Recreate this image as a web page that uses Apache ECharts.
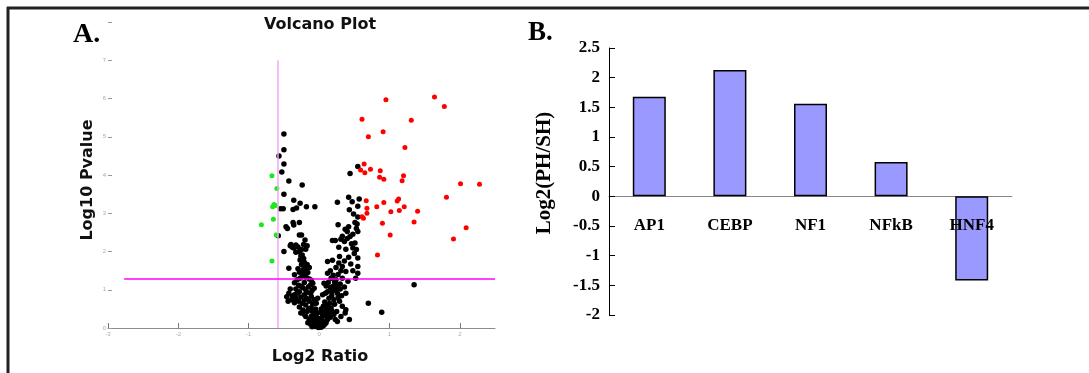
<!DOCTYPE html>
<html>
<head>
<meta charset="utf-8">
<script src="https://cdn.jsdelivr.net/npm/echarts@6/dist/echarts.min.js"></script>
<style>
  html, body { margin: 0; padding: 0; background: #fff; }
  #main { width: 1089px; height: 373px; }
</style>
</head>
<body>
<div id="main"></div>
<script>
// A. volcano plot: [log2 ratio, log10 pvalue]
const redPoints = [
  [0.61, 5.46], [0.95, 5.97], [1.64, 6.04], [1.78, 5.79], [1.31, 5.43], [0.70, 5.00],
  [0.91, 5.13], [1.22, 4.72], [0.64, 4.29], [0.59, 4.13], [0.73, 4.15], [0.65, 4.06],
  [0.87, 4.11], [0.86, 3.94], [0.92, 3.89], [1.20, 3.98], [1.18, 3.85], [2.01, 3.77],
  [2.28, 3.76], [1.81, 3.42], [0.67, 3.33], [0.92, 3.28], [1.11, 3.32], [1.13, 3.37],
  [1.21, 3.17], [0.82, 3.17], [0.68, 3.13], [1.02, 3.04], [1.40, 3.05], [1.14, 3.07],
  [0.68, 3.00], [0.61, 2.91], [0.63, 2.87], [0.90, 2.74], [1.35, 2.77], [2.09, 2.62],
  [1.01, 2.43], [1.91, 2.33], [0.83, 1.91]
]
const greenPoints = [
  [-0.67, 3.98], [-0.60, 3.65], [-0.64, 3.23], [-0.66, 3.17], [-0.62, 3.20],
  [-0.65, 2.84], [-0.82, 2.70], [-0.61, 2.43], [-0.67, 1.75]
]
const blackPoints = [
  // left arm
  [-0.50, 5.07], [-0.50, 4.66], [-0.57, 4.50], [-0.50, 4.29], [-0.53, 4.08], [-0.43, 3.84],
  [-0.24, 3.74], [-0.50, 3.50], [-0.36, 3.34], [-0.27, 3.26], [-0.18, 3.17], [-0.06, 3.17],
  [-0.55, 3.12], [-0.51, 3.12], [-0.37, 3.10], [-0.32, 3.14], [-0.47, 2.65], [-0.45, 2.60],
  [-0.36, 2.69], [-0.28, 2.76], [-0.37, 2.76], [-0.58, 2.41], [-0.28, 2.43], [-0.25, 2.43],
  [-0.20, 2.30], [-0.41, 2.15], [-0.38, 2.11], [-0.50, 2.00], [-0.36, 2.09], [-0.28, 2.00],
  [-0.24, 1.91], [-0.17, 2.15], [-0.43, 1.56], [-0.27, 1.78], [-0.20, 1.61], [-0.18, 1.54],
  [-0.14, 1.58], [-0.35, 1.39], [-0.28, 1.46], [-0.24, 1.35], [-0.31, 1.26], [-0.14, 1.28],
  [-0.21, 1.19], [-0.09, 1.17], [-0.26, 1.09], [-0.19, 1.00], [-0.12, 1.13], [-0.07, 1.04],
  [-0.43, 0.91], [-0.38, 0.83], [-0.31, 0.91], [-0.26, 0.81], [-0.21, 0.87], [-0.12, 0.91],
  [-0.44, 0.70], [-0.39, 0.74], [-0.29, 0.70], [-0.24, 0.65], [-0.14, 0.70], [-0.07, 0.74],
  [-0.02, 0.78], [-0.26, 0.39], [-0.21, 0.35], [-0.17, 0.43], [-0.12, 0.52], [-0.07, 0.39],
  [-0.05, 0.22], [-0.01, 0.17], [-0.09, 0.13], [-0.14, 0.22], [-0.02, 0.09], [0.01, 0.04],
  [0.04, 0.13], [-0.06, 0.04],
  [-0.40, 2.18], [-0.33, 2.17], [-0.30, 2.12], [-0.25, 2.05], [-0.22, 2.18], [-0.19, 2.06],
  [-0.33, 1.98], [-0.26, 1.88], [-0.22, 1.82], [-0.21, 1.72], [-0.25, 1.66], [-0.17, 1.66],
  [-0.23, 1.52], [-0.30, 1.55], [-0.16, 1.45], [-0.21, 1.42], [-0.27, 1.30], [-0.18, 1.32],
  [-0.11, 1.25], [-0.35, 1.18], [-0.29, 1.12], [-0.15, 1.08], [-0.23, 1.05], [-0.33, 1.02],
  [-0.41, 1.02], [-0.10, 0.98], [-0.17, 0.93], [-0.28, 0.95], [-0.35, 0.87], [-0.46, 0.82],
  [-0.33, 0.78], [-0.18, 0.78], [-0.11, 0.82], [-0.21, 0.73], [-0.35, 0.66], [-0.19, 0.60],
  [-0.09, 0.62], [-0.04, 0.65], [-0.28, 0.55], [-0.15, 0.50], [-0.05, 0.50], [-0.23, 0.47],
  [-0.10, 0.44], [-0.02, 0.40], [-0.19, 0.30], [-0.11, 0.31], [-0.04, 0.30], [-0.08, 0.22],
  [0.00, 0.25], [-0.12, 0.10], [-0.04, 0.14], [0.03, 0.18], [-0.07, 0.06], [0.06, 0.06],
  [-0.01, 0.01], [0.03, 0.02], [-0.10, 0.03], [0.08, 0.10], [-0.16, 0.14], [0.10, 0.14],
  // right arm
  [0.55, 4.22], [0.44, 4.04], [0.42, 3.42], [0.57, 3.37], [0.47, 3.30], [0.26, 3.29],
  [0.43, 3.09], [0.51, 2.76], [0.54, 2.72], [0.27, 2.70], [0.42, 2.65], [0.55, 2.52],
  [0.40, 2.52], [0.44, 2.39], [0.31, 2.32], [0.19, 2.29], [0.23, 2.29], [0.36, 2.26],
  [0.51, 2.22], [0.28, 2.11], [0.48, 2.09], [0.38, 2.06], [0.55, 1.83], [0.29, 1.87],
  [0.19, 1.77], [0.28, 1.70], [0.12, 1.74], [0.33, 1.61], [0.55, 1.61], [0.45, 1.67],
  [0.16, 1.50], [0.12, 1.43], [0.20, 1.38], [0.38, 1.48], [0.55, 1.43], [0.24, 1.26],
  [0.13, 1.19], [0.07, 1.17], [0.26, 1.13], [0.41, 1.22], [0.20, 1.09], [0.36, 1.07],
  [0.19, 0.96], [0.26, 0.91], [0.30, 1.02], [0.09, 0.91], [0.05, 0.87], [0.14, 0.78],
  [0.21, 0.74], [0.38, 0.91], [0.29, 0.70], [0.12, 0.61], [0.06, 0.57], [0.17, 0.52],
  [0.33, 0.57], [0.38, 0.48], [0.09, 0.43], [0.14, 0.39], [0.21, 0.35], [0.31, 0.30],
  [0.37, 0.39], [0.43, 0.22], [0.26, 0.17], [0.23, 0.22], [0.12, 0.22], [0.07, 0.17],
  [0.02, 0.09],
  [0.05, 0.30], [0.10, 0.32], [0.16, 0.28], [0.04, 0.40], [0.18, 0.45], [0.11, 0.50],
  [0.25, 0.43], [0.03, 0.50], [0.08, 0.68], [0.15, 0.65], [0.22, 0.62], [0.27, 0.80],
  [0.32, 0.84], [0.18, 0.85], [0.12, 0.95], [0.24, 1.02], [0.16, 1.06], [0.10, 1.10],
  [0.30, 1.15], [0.33, 1.30], [0.22, 1.20], [0.17, 1.30], [0.27, 1.40], [0.31, 1.50],
  [0.24, 1.58], [0.36, 1.75], [0.42, 1.85], [0.50, 1.95], [0.46, 2.20], [0.53, 2.05],
  [0.40, 2.34], [0.33, 2.40], [0.48, 2.45], [0.53, 2.60], [0.37, 2.58], [0.55, 2.90],
  [0.49, 2.98], [0.55, 3.18], [0.52, 1.30], [0.48, 1.50],
  // outliers
  [1.35, 1.13], [0.70, 0.65], [0.89, 0.41]
]
const foldCut = -0.585   // vertical cut-off line
const pCut = 1.3         // horizontal cut-off line

// B. bar chart
const factors = ['AP1', 'CEBP', 'NF1', 'NFkB', 'HNF4']
const log2Ratio = [1.68, 2.13, 1.56, 0.58, -1.42]

const chart = echarts.init(document.getElementById('main'))
const serif = '"Liberation Serif", "Times New Roman", serif'
const sans = '"DejaVu Sans", Verdana, sans-serif'

chart.setOption({
  animation: false,
  grid: [
    {left: 108, top: 22, width: 387, height: 306},
    {left: 609, top: 48, width: 403, height: 267}
  ],
  xAxis: [
    {
      gridIndex: 0,
      type: 'value',
      min: -3,
      max: 2.5,
      interval: 1,
      axisLine: {onZero: false, lineStyle: {color: '#8c8c8c'}},
      axisTick: {inside: true, length: 5, lineStyle: {color: '#777'}},
      axisLabel: {fontSize: 6, color: '#aaa', margin: 3, showMaxLabel: false},
      splitLine: {show: false}
    },
    {
      gridIndex: 1,
      type: 'category',
      data: factors,
      axisLine: {onZero: true, lineStyle: {color: '#888'}},
      axisTick: {inside: true, length: 5, lineStyle: {color: '#666'}},
      axisLabel: {show: false}
    }
  ],
  yAxis: [
    {
      gridIndex: 0,
      type: 'value',
      min: 0,
      max: 8,
      interval: 1,
      axisLine: {show: false, onZero: false},
      axisTick: {show: true, inside: true, length: 4, lineStyle: {color: '#999'}},
      axisLabel: {fontSize: 6, color: '#aaa', margin: 2, formatter: v => (v === 8 ? '' : v)},
      splitLine: {show: false}
    },
    {
      gridIndex: 1,
      type: 'value',
      min: -2,
      max: 2.5,
      interval: 0.5,
      axisLine: {show: true, onZero: false, lineStyle: {color: '#000'}},
      axisTick: {show: true, inside: true, length: 6, lineStyle: {color: '#000'}},
      axisLabel: {fontFamily: serif, fontWeight: 'bold', fontSize: 17, color: '#000', margin: 9},
      splitLine: {show: false}
    }
  ],
  series: [
    {
      name: 'ns',
      type: 'scatter',
      xAxisIndex: 0,
      yAxisIndex: 0,
      symbolSize: 5.5,
      itemStyle: {color: '#000', opacity: 1},
      data: blackPoints,
      markLine: {
        silent: true,
        symbol: 'none',
        label: {show: false},
        data: [
          [{coord: [foldCut, 0], lineStyle: {color: '#f2a6f2', width: 1.5, type: 'solid'}}, {coord: [foldCut, 7]}],
          [{coord: [-2.77, pCut], lineStyle: {color: '#ff00ff', width: 1.5, type: 'solid'}}, {coord: [2.5, pCut]}]
        ]
      }
    },
    {
      name: 'up',
      type: 'scatter',
      xAxisIndex: 0,
      yAxisIndex: 0,
      symbolSize: 5,
      itemStyle: {color: '#ff0000', opacity: 1},
      data: redPoints
    },
    {
      name: 'down',
      type: 'scatter',
      xAxisIndex: 0,
      yAxisIndex: 0,
      symbolSize: 5,
      itemStyle: {color: '#1aea1a', opacity: 1},
      data: greenPoints
    },
    {
      name: 'Log2(PH/SH)',
      type: 'bar',
      xAxisIndex: 1,
      yAxisIndex: 1,
      barWidth: 33,
      itemStyle: {color: '#9999ff', borderColor: '#000', borderWidth: 1.5},
      data: log2Ratio
    },
    {
      // category names drawn just under the zero line
      name: 'labels',
      type: 'scatter',
      xAxisIndex: 1,
      yAxisIndex: 1,
      symbolSize: 0,
      silent: true,
      z: 10,
      itemStyle: {opacity: 1},
      label: {
        show: true,
        position: 'bottom',
        distance: 21,
        formatter: p => p.value[0],
        fontFamily: serif,
        fontWeight: 'bold',
        fontSize: 17,
        color: '#000',
        opacity: 1
      },
      data: factors.map(f => [f, 0])
    }
  ],
  graphic: [
    // frame
    {type: 'line', shape: {x1: 7, y1: 8, x2: 1089, y2: 8}, style: {stroke: '#222', lineWidth: 3}},
    {type: 'line', shape: {x1: 8, y1: 7, x2: 8, y2: 373}, style: {stroke: '#222', lineWidth: 3}},
    // panel letters
    {type: 'text', x: 73, y: 35, style: {text: 'A.', font: 'bold 28px ' + serif, fill: '#000', textVerticalAlign: 'middle'}},
    {type: 'text', x: 528, y: 33, style: {text: 'B.', font: 'bold 27px ' + serif, fill: '#000', textVerticalAlign: 'middle'}},
    // volcano titles
    {type: 'text', x: 320, y: 25, style: {text: 'Volcano Plot', font: 'bold 16px ' + sans, fill: '#111', textAlign: 'center', textVerticalAlign: 'middle'}},
    {type: 'text', x: 320, y: 357, style: {text: 'Log2 Ratio', font: 'bold 16px ' + sans, fill: '#111', textAlign: 'center', textVerticalAlign: 'middle'}},
    {type: 'text', x: 88, y: 180, rotation: Math.PI / 2, style: {text: 'Log10 Pvalue', font: 'bold 16px ' + sans, fill: '#111', textAlign: 'center', textVerticalAlign: 'middle'}},
    // bar chart y name
    {type: 'text', x: 545, y: 173, rotation: Math.PI / 2, style: {text: 'Log2(PH/SH)', font: 'bold 21px ' + serif, fill: '#000', textAlign: 'center', textVerticalAlign: 'middle'}}
  ]
})
</script>
</body>
</html>
